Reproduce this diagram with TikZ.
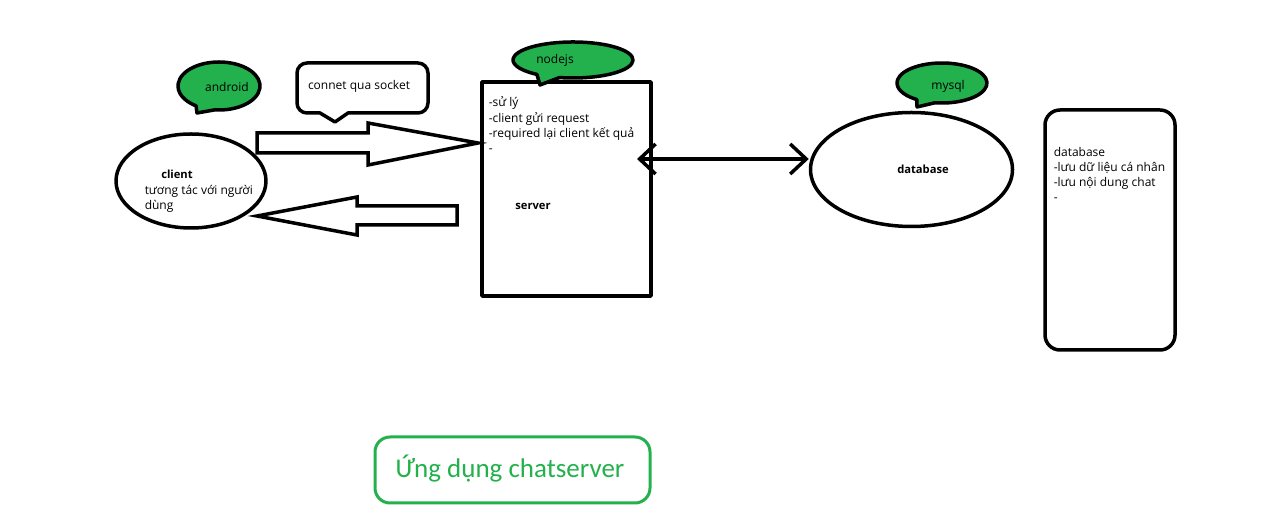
\documentclass[tikz,border=0pt]{standalone}
\usepackage{fontspec}
\setmainfont{Open Sans}
\newfontfamily\titlefont{Carlito}
\usetikzlibrary{shapes.geometric,arrows.meta}
\definecolor{pgreen}{HTML}{22B14C}
\begin{document}
\begin{tikzpicture}[x=1pt,y=1pt,line width=3.5pt,line join=round,
  txt/.style={font=\fontsize{12}{14}\selectfont,inner sep=0pt,text height=9pt,text depth=3pt,yshift=-2pt},
  boldtxt/.style={txt,font=\fontsize{11.2}{14}\selectfont\bfseries},
  bubble/.style={fill=pgreen,draw=black,line width=3.5pt},
  blockarrow/.style={draw=black,fill=white,line width=3.5pt,line join=miter},
  barb/.style={line width=3.5pt,{Straight Barb[length=16pt,width=30pt]}-{Straight Barb[length=16pt,width=30pt]}}]
\useasboundingbox (0,0) rectangle (1287,532);
\fill[white] (0,0) rectangle (1287,532);

% client
\node[draw,ellipse,minimum width=150pt,minimum height=94pt,inner sep=0pt] (client) at (191,351) {};
\node[boldtxt] (clientlbl) at (177,358) {client};
\node[txt,anchor=west] (client1) at (143,342) {tương tác với người};
\node[txt,anchor=west] (client2) at (143,327) {dùng};

% android bubble
\path[bubble] ({219+41*cos(236)},{446+24*sin(236)}) -- (197,419) -- ({219+41*cos(264)},{446+24*sin(264)})
  arc[start angle=264,end angle=596,x radius=41,y radius=24] -- cycle;
\node[txt] (android) at (227,445) {android};

% connet bubble
\draw[fill=white] (335,410) -- (320,419) [rounded corners=10pt] -- (297,419) -- (297,469) -- (428,469) -- (428,419) [sharp corners] -- (348,419) -- cycle;
\node[txt] (socket) at (359,447) {connet qua socket};

% block arrows
\draw[blockarrow] (257,399) -- (368,399) -- (368,409) -- (478,389) -- (368,367) -- (368,379) -- (257,379) -- cycle;
\draw[blockarrow] (257,316) -- (357,335) -- (357,326) -- (457,326) -- (457,307) -- (357,307) -- (357,297) -- cycle;

% server
\node[draw,minimum width=169pt,minimum height=214pt,inner sep=0pt] (server) at (566.5,343) {};
\path[bubble] ({573+60*cos(233)},{472+18*sin(233)}) -- (540,447) -- ({573+60*cos(257)},{472+18*sin(257)})
  arc[start angle=257,end angle=593,x radius=60,y radius=18] -- cycle;
\node[txt] (nodejs) at (555,473) {nodejs};
\node[txt,anchor=west] (s1) at (487,430) {-sử lý};
\node[txt,anchor=west] (s2) at (487,414) {-client gửi request};
\node[txt,anchor=west] (s3) at (487,399) {-required lại client kết quả};
\node[txt,anchor=west] (s4) at (487,384) {-};
\node[boldtxt] (serverlbl) at (533,327) {server};

% database
\node[draw,ellipse,minimum width=202pt,minimum height=114pt,inner sep=0pt] (db) at (911.5,362.5) {};
\node[boldtxt] (dblbl) at (923,363) {database};
\path[bubble] ({942+45*cos(236)},{449+20*sin(236)}) -- (917,425) -- ({942+45*cos(261)},{449+20*sin(261)})
  arc[start angle=261,end angle=596,x radius=45,y radius=20] -- cycle;
\node[txt] (mysql) at (948,447) {mysql};

% connector server <-> database
\coordinate (sc) at (637,373);
\draw[barb] (sc) -- (sc -| db.west);

% database note
\node[draw,rounded corners=15pt,minimum width=130pt,minimum height=240pt,inner sep=0pt] (dbnote) at (1110,302) {};
\node[txt,anchor=west] (d1) at (1052,380) {database};
\node[txt,anchor=west] (d2) at (1052,365) {-lưu dữ liệu cá nhân};
\node[txt,anchor=west] (d3) at (1052,350) {-lưu nội dung chat};
\node[txt,anchor=west] (d4) at (1052,335) {-};

% title
\node[draw=pgreen,line width=3pt,rounded corners=15pt,minimum width=275pt,minimum height=66pt,inner sep=0pt] (titlebox) at (512.5,62) {};
\node[text=pgreen,font=\titlefont\fontsize{27}{32}\selectfont,inner sep=0pt] (title) at (510,63) {Ứng dụng chatserver};
\end{tikzpicture}
\end{document}
